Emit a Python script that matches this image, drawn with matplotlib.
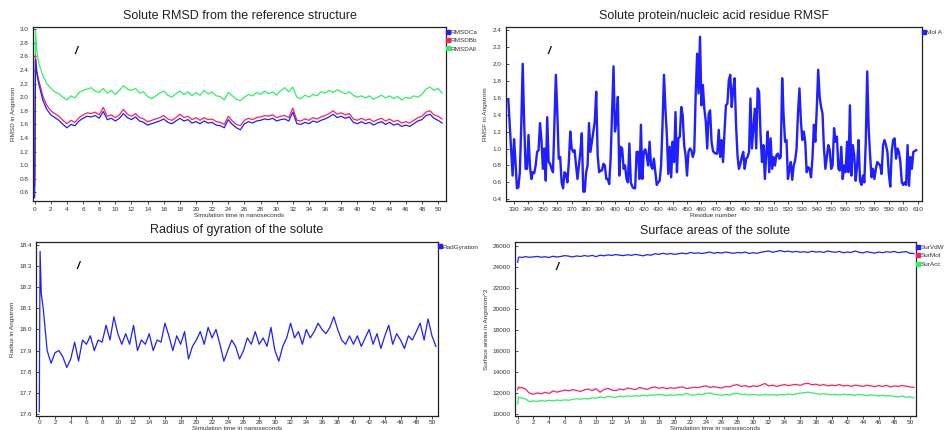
import numpy as np
import matplotlib
matplotlib.use('Agg')
import matplotlib.pyplot as plt
from matplotlib.lines import Line2D

plt.rcParams['font.family'] = ['Liberation Sans', 'DejaVu Sans']

# ---- data ----
# time axis (ns): a few early frames, then every 0.5 ns
time_ns = [0.0, 0.1, 0.25] + [round(0.5 * k, 2) for k in range(1, 102)]

rmsd_ca = [0.52, 2.55, 2.35,
           2.20, 1.96, 1.82, 1.74, 1.70, 1.66, 1.60, 1.55, 1.60, 1.58,
           1.65, 1.69, 1.72, 1.71, 1.73, 1.69, 1.79, 1.67, 1.69, 1.65,
           1.69, 1.76, 1.70, 1.67, 1.71, 1.65, 1.63, 1.59, 1.61, 1.63,
           1.65, 1.68, 1.63, 1.61, 1.65, 1.69, 1.65, 1.67, 1.62, 1.64,
           1.61, 1.65, 1.62, 1.63, 1.59, 1.58, 1.55, 1.67, 1.60, 1.55,
           1.52, 1.61, 1.64, 1.62, 1.65, 1.66, 1.68, 1.67, 1.69, 1.65,
           1.67, 1.68, 1.65, 1.78, 1.61, 1.60, 1.63, 1.61, 1.65, 1.63,
           1.66, 1.68, 1.71, 1.75, 1.70, 1.72, 1.69, 1.71, 1.63, 1.61,
           1.64, 1.61, 1.63, 1.59, 1.62, 1.64, 1.60, 1.63, 1.59, 1.61,
           1.57, 1.59, 1.57, 1.61, 1.65, 1.67, 1.73, 1.75, 1.69, 1.66,
           1.62]
rmsd_bb = [0.70, 2.62, 2.40,
           2.25, 2.02, 1.88, 1.80, 1.76, 1.72, 1.66, 1.61, 1.66, 1.63,
           1.70, 1.74, 1.77, 1.76, 1.78, 1.74, 1.85, 1.72, 1.74, 1.70,
           1.74, 1.82, 1.75, 1.72, 1.76, 1.70, 1.68, 1.64, 1.66, 1.68,
           1.70, 1.73, 1.68, 1.66, 1.70, 1.75, 1.70, 1.72, 1.67, 1.70,
           1.66, 1.70, 1.67, 1.68, 1.64, 1.63, 1.60, 1.72, 1.65, 1.60,
           1.58, 1.66, 1.69, 1.67, 1.70, 1.71, 1.73, 1.72, 1.74, 1.70,
           1.72, 1.73, 1.70, 1.84, 1.66, 1.65, 1.68, 1.66, 1.70, 1.68,
           1.71, 1.73, 1.76, 1.80, 1.75, 1.77, 1.74, 1.76, 1.68, 1.66,
           1.69, 1.66, 1.68, 1.64, 1.67, 1.69, 1.65, 1.68, 1.64, 1.66,
           1.62, 1.64, 1.62, 1.66, 1.70, 1.72, 1.78, 1.80, 1.74, 1.72,
           1.68]
rmsd_all = [0.85, 2.98, 2.70,
            2.50, 2.32, 2.20, 2.13, 2.08, 2.05, 2.00, 1.96, 2.02, 1.99,
            2.07, 2.10, 2.12, 2.14, 2.09, 2.07, 2.13, 2.06, 2.10, 2.04,
            2.10, 2.17, 2.12, 2.10, 2.13, 2.06, 2.08, 2.01, 1.98, 2.02,
            2.06, 2.09, 2.03, 2.00, 2.05, 2.09, 2.04, 2.08, 2.02, 2.07,
            2.03, 2.10, 2.05, 2.08, 2.02, 2.01, 1.96, 2.07, 2.02, 1.97,
            1.95, 2.00, 2.04, 2.02, 2.07, 2.04, 2.09, 2.05, 2.08, 2.03,
            2.10, 2.14, 2.08, 2.15, 2.00, 1.98, 2.03, 2.00, 2.04, 2.02,
            2.08, 2.06, 2.10, 2.07, 2.11, 2.08, 2.05, 2.08, 2.03, 2.00,
            2.02, 1.99, 2.02, 1.97, 2.00, 2.03, 1.99, 2.02, 1.98, 2.01,
            1.96, 2.00, 1.98, 2.02, 2.00, 2.04, 2.12, 2.15, 2.10, 2.13,
            2.06]

residues = list(range(326, 610))
rmsf_mol_a = [1.58, 1.28, 0.96, 0.68, 1.11, 0.84, 0.53, 0.54, 0.72, 1.28,
              2.00, 1.32, 0.76, 0.76, 1.16, 0.80, 0.64, 0.72, 0.71, 0.80,
              0.96, 0.98, 1.30, 1.10, 0.76, 1.00, 0.62, 1.37, 0.84, 0.82,
              0.76, 0.72, 1.28, 1.87, 1.43, 0.88, 0.90, 0.60, 0.53, 0.72,
              0.70, 0.60, 0.84, 1.20, 1.00, 0.96, 0.98, 0.80, 0.64, 0.80,
              0.96, 1.18, 0.49, 0.49, 0.72, 0.80, 1.30, 0.96, 1.08, 1.20,
              1.32, 1.67, 0.92, 0.72, 0.74, 0.74, 0.82, 0.80, 0.64, 0.64,
              0.58, 0.88, 1.43, 1.97, 1.20, 1.32, 1.61, 0.68, 1.02, 1.00,
              0.76, 0.80, 0.64, 0.60, 1.06, 0.60, 0.55, 0.53, 0.53, 0.96,
              0.96, 0.64, 1.28, 0.64, 0.96, 0.99, 0.92, 0.80, 1.08, 0.80,
              0.76, 0.88, 0.72, 0.57, 0.60, 0.62, 0.80, 1.28, 1.87, 1.47,
              1.16, 0.70, 1.02, 0.66, 1.08, 0.84, 1.43, 0.72, 1.12, 1.14,
              1.49, 1.39, 1.04, 0.92, 0.68, 0.96, 1.00, 0.98, 0.90, 0.96,
              1.63, 2.12, 1.65, 2.32, 1.51, 1.75, 1.47, 1.32, 1.00, 1.41,
              1.45, 1.08, 0.97, 0.95, 0.94, 0.94, 1.22, 0.90, 1.10, 0.84,
              1.20, 1.51, 1.53, 1.81, 1.87, 1.49, 1.70, 1.83, 1.28, 0.92,
              0.76, 0.82, 0.90, 0.96, 0.76, 0.88, 0.90, 0.96, 1.59, 1.00,
              1.24, 1.47, 1.00, 1.71, 1.67, 1.16, 0.84, 1.04, 0.64, 0.96,
              1.20, 0.72, 1.12, 0.76, 0.90, 0.80, 0.92, 0.94, 0.88, 0.90,
              1.83, 1.39, 1.08, 1.10, 0.64, 0.76, 0.84, 0.63, 0.80, 0.86,
              1.00, 1.43, 1.71, 1.32, 1.10, 1.20, 1.08, 0.72, 0.78, 0.76,
              0.66, 0.88, 1.28, 1.08, 1.47, 1.93, 1.61, 1.49, 1.41, 1.00,
              0.76, 0.90, 1.04, 0.98, 0.76, 0.80, 1.24, 1.08, 1.14, 0.76,
              0.74, 1.02, 0.64, 0.80, 0.72, 1.08, 0.72, 1.51, 0.68, 1.04,
              0.92, 0.62, 0.80, 1.10, 0.62, 0.57, 0.68, 0.60, 1.08, 1.91,
              1.24, 0.92, 0.66, 0.76, 0.64, 0.76, 0.84, 0.82, 0.80, 0.70,
              1.04, 1.10, 1.04, 0.96, 0.70, 0.55, 0.96, 1.10, 1.12, 0.88,
              1.00, 0.96, 0.84, 0.60, 0.57, 0.60, 0.57, 1.04, 0.56, 0.90,
              0.76, 0.96, 0.97, 0.98]

rad_gyration = [17.61, 18.37, 18.17,
                18.10, 17.90, 17.84, 17.89, 17.90, 17.87, 17.82, 17.86, 17.94, 17.85,
                17.95, 17.93, 17.97, 17.90, 17.95, 17.94, 18.02, 17.95, 18.06, 17.98,
                17.93, 17.98, 17.93, 18.02, 17.90, 17.95, 17.93, 17.98, 17.90, 17.95,
                17.94, 18.03, 17.97, 17.90, 17.97, 17.93, 17.99, 17.86, 17.92, 17.95,
                17.99, 17.93, 18.01, 17.96, 18.00, 17.93, 17.85, 17.90, 17.95, 17.92,
                17.86, 17.90, 17.96, 17.93, 17.99, 17.93, 17.96, 17.92, 18.01, 17.90,
                17.85, 17.92, 17.96, 18.03, 17.96, 17.99, 17.93, 18.00, 17.96, 17.99,
                18.03, 18.00, 17.98, 18.01, 18.06, 18.00, 17.95, 17.93, 17.97, 17.93,
                17.97, 17.92, 17.96, 18.00, 17.93, 17.98, 17.91, 17.97, 18.02, 17.93,
                17.98, 17.95, 17.91, 17.97, 17.95, 17.99, 18.03, 17.95, 18.05, 17.97,
                17.92]

sur_vdw = [24450, 24900, 24950,
           24900, 24980, 24920, 24960, 25000, 24930, 24970, 24900, 25020, 24950,
           25000, 25080, 25030, 24950, 25050, 25000, 25080, 25020, 25100, 24980,
           25120, 25060, 25150, 25100, 25180, 25120, 25080, 25160, 25110, 25200,
           25130, 25060, 25170, 25120, 25260, 25200, 25300, 25220, 25280, 25200,
           25260, 25320, 25250, 25380, 25300, 25340, 25280, 25350, 25420, 25300,
           25380, 25330, 25420, 25360, 25300, 25380, 25340, 25420, 25280, 25360,
           25300, 25400, 25460, 25520, 25400, 25480, 25560, 25450, 25500, 25420,
           25480, 25400, 25450, 25380, 25500, 25420, 25460, 25380, 25520, 25440,
           25400, 25480, 25350, 25420, 25380, 25520, 25400, 25340, 25460, 25380,
           25320, 25420, 25360, 25450, 25400, 25480, 25360, 25420, 25460, 25300,
           25280]
sur_mol = [12300, 12550, 12450,
           12500, 12350, 11950, 11850, 11980, 11900, 12050, 11920, 12180, 12050,
           12150, 12250, 12180, 12300, 12220, 12120, 12280, 12350, 12200, 12380,
           12050, 12300, 12420, 12250, 12200, 12350, 12280, 12450, 12380, 12300,
           12500, 12400, 12320, 12480, 12550, 12420, 12500, 12380, 12480, 12420,
           12500, 12560, 12400, 12450, 12520, 12480, 12600, 12650, 12500, 12580,
           12500, 12450, 12600, 12550, 12700, 12780, 12600, 12680, 12550, 12650,
           12600, 12720, 12880, 12650, 12720, 12600, 12700, 12780, 12680, 12750,
           12800, 12700, 12850, 12900, 12750, 12820, 12700, 12780, 12650, 12720,
           12680, 12780, 12640, 12700, 12620, 12720, 12680, 12600, 12720, 12650,
           12580, 12680, 12600, 12700, 12550, 12650, 12600, 12700, 12620, 12550,
           12520]
sur_acc = [10950, 11600, 11550,
           11500, 11400, 11150, 11220, 11180, 11250, 11200, 11280, 11220, 11300,
           11260, 11320, 11280, 11360, 11420, 11380, 11450, 11400, 11520, 11480,
           11580, 11520, 11650, 11600, 11560, 11680, 11620, 11700, 11660, 11720,
           11680, 11760, 11700, 11800, 11760, 11840, 11780, 11720, 11800, 11760,
           11820, 11780, 11950, 11800, 11760, 11880, 11820, 11920, 11980, 11860,
           11800, 11760, 11850, 11780, 11900, 11940, 11820, 11860, 11780, 11840,
           11800, 11760, 11840, 11780, 11820, 11760, 11840, 11800, 11880, 11820,
           11900, 11960, 12000, 12060, 11980, 11920, 11860, 11900, 11850, 11800,
           11840, 11780, 11860, 11800, 11820, 11760, 11840, 11780, 11720, 11800,
           11740, 11700, 11760, 11680, 11720, 11640, 11600, 11700, 11560, 11620,
           11500]

BLUE = '#1f1fff'
RED = '#ff1f5c'
GREEN = '#2ef06a'
TXT = '#333333'


def style_axes(ax, title, xlabel, ylabel, xticks, yticks, xlim, ylim, fmt,
               xpad=2, xlabelpad=1.0):
    ax.set_xlim(*xlim)
    ax.set_ylim(*ylim)
    ax.set_xticks(xticks)
    ax.set_yticks(yticks)
    ax.set_yticklabels([fmt.format(v) for v in yticks])
    ax.tick_params(axis='x', direction='out', length=2, width=0.6, pad=xpad,
                   labelsize=4.6, colors=TXT)
    ax.tick_params(axis='y', direction='in', length=2, width=0.6, pad=3,
                   labelsize=4.6, colors=TXT)
    for s in ax.spines.values():
        s.set_linewidth(0.9)
        s.set_color('#222222')
    ax.set_title(title, fontsize=9.0, color='#222222', pad=6)
    ax.set_xlabel(xlabel, fontsize=4.6, color=TXT, labelpad=xlabelpad)
    ax.set_ylabel(ylabel, fontsize=4.6, color=TXT, labelpad=3)
    # small black pen stroke that shows up in every panel of the screenshot
    ax.text(0.105, 0.86, '/', transform=ax.transAxes, fontsize=8,
            fontweight='bold', style='italic', color='black',
            ha='center', va='center')


def side_legend(ax, labels, colors):
    handles = [Line2D([], [], ls='none', marker='s', markersize=2.2,
                      color=c) for c in colors]
    ax.legend(handles, labels, loc='upper left', bbox_to_anchor=(1.0, 0.99),
              frameon=False, fontsize=4.6, handlelength=0.5,
              handletextpad=0.15, borderaxespad=0.1, borderpad=0,
              labelspacing=0.45, labelcolor=TXT)


fig = plt.figure(figsize=(9.44, 4.30), dpi=100)
W, H = 944.0, 430.0


def axes_px(x0, y0, x1, y1):
    return fig.add_axes([x0 / W, 1 - y1 / H, (x1 - x0) / W, (y1 - y0) / H])


even_t = list(range(0, 52, 2))

# RMSD
ax1 = axes_px(33, 27, 446, 201)
ax1.plot(time_ns, rmsd_all, color=GREEN, lw=0.9)
ax1.plot(time_ns, rmsd_bb, color=RED, lw=0.9)
ax1.plot(time_ns, rmsd_ca, color=BLUE, lw=0.9)
style_axes(ax1, 'Solute RMSD from the reference structure',
           'Simulation time in nanoseconds', 'RMSD in Angstrom',
           even_t, [round(0.6 + 0.2 * k, 1) for k in range(13)],
           (-0.21, 50.99), (0.472, 3.034), '{:.1f}')
side_legend(ax1, ['RMSDCa', 'RMSDBb', 'RMSDAll'], [BLUE, RED, GREEN])

# RMSF
ax2 = axes_px(505.7, 27, 921.7, 201)
ax2.plot(residues, rmsf_mol_a, color=BLUE, lw=1.7)
style_axes(ax2, 'Solute protein/nucleic acid residue RMSF', 'Residue number',
           'RMSF in Angstrom', list(range(330, 620, 10)),
           [round(0.4 + 0.2 * k, 1) for k in range(11)],
           (324.2, 612.8), (0.38, 2.435), '{:.1f}')
side_legend(ax2, ['Mol A'], [BLUE])

# Radius of gyration
ax3 = axes_px(36, 241.7, 437.7, 416)
ax3.plot(time_ns, rad_gyration, color=BLUE, lw=0.9)
style_axes(ax3, 'Radius of gyration of the solute',
           'Simulation time in nanoseconds', 'Radius in Angstrom',
           even_t, [round(17.6 + 0.1 * k, 1) for k in range(9)],
           (-0.42, 50.73), (17.59, 18.416), '{:.1f}', xpad=1.2, xlabelpad=0.2)
side_legend(ax3, ['RadGyration'], [BLUE])

# Surface areas
ax4 = axes_px(515, 242.3, 916, 416)
ax4.plot(time_ns, sur_vdw, color=BLUE, lw=0.9)
ax4.plot(time_ns, sur_mol, color=RED, lw=0.9)
ax4.plot(time_ns, sur_acc, color=GREEN, lw=0.9)
style_axes(ax4, 'Surface areas of the solute',
           'Simulation time in nanoseconds', 'Surface areas in Angstrom^2',
           even_t, list(range(10000, 27000, 2000)),
           (-0.34, 50.76), (9780, 26350), '{:d}', xpad=1.2, xlabelpad=0.2)
side_legend(ax4, ['SurVdW', 'SurMol', 'SurAcc'], [BLUE, RED, GREEN])

fig.savefig('out.png', dpi=100)
